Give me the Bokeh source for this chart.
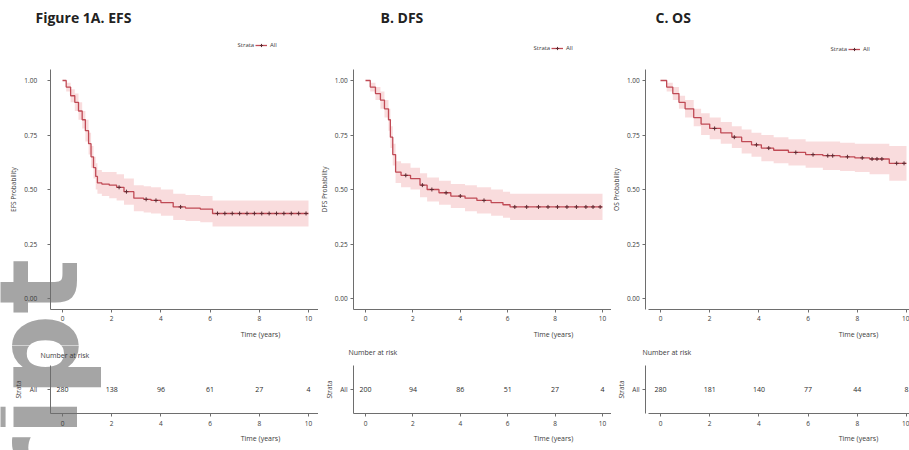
from bokeh.plotting import figure
from bokeh.layouts import row, column
from bokeh.models import Range1d, FixedTicker, Label, Legend, LegendItem
from bokeh.embed import file_html
from bokeh.resources import INLINE
from bokeh.core.properties import value

# ---- Kaplan-Meier estimates (time in years) ----
efs_time = [0, 0.15, 0.33, 0.5, 0.65, 0.8, 0.93, 1.06, 1.16, 1.26, 1.35, 1.42,
            1.6, 1.9, 2.2, 2.5, 2.9, 3.3, 3.6, 4.0, 4.5, 5.0, 5.6, 6.1, 10.0]
efs_surv = [1.0, 0.97, 0.93, 0.90, 0.86, 0.82, 0.77, 0.71, 0.65, 0.60, 0.56, 0.53,
            0.525, 0.52, 0.51, 0.49, 0.46, 0.455, 0.45, 0.44, 0.42, 0.415, 0.41, 0.39, 0.39]
efs_lower = [1.0, 0.95, 0.90, 0.86, 0.82, 0.78, 0.72, 0.66, 0.60, 0.55, 0.50, 0.48,
             0.47, 0.46, 0.45, 0.43, 0.40, 0.395, 0.39, 0.38, 0.36, 0.355, 0.35, 0.33, 0.33]
efs_upper = [1.0, 0.99, 0.96, 0.94, 0.90, 0.86, 0.82, 0.76, 0.70, 0.65, 0.62, 0.59,
             0.58, 0.58, 0.57, 0.55, 0.52, 0.515, 0.51, 0.50, 0.48, 0.475, 0.47, 0.45, 0.45]
efs_censor = [2.3, 2.6, 3.4, 3.8, 4.8, 6.3, 6.6, 6.9, 7.2, 7.5, 7.8, 8.1, 8.4,
              8.7, 9.0, 9.3, 9.6, 9.9]

dfs_time = [0, 0.2, 0.42, 0.63, 0.8, 0.97, 1.05, 1.15, 1.27, 1.5, 1.9, 2.3, 2.6,
            3.1, 3.6, 4.2, 4.7, 5.3, 5.8, 6.1, 10.0]
dfs_surv = [1.0, 0.97, 0.94, 0.91, 0.87, 0.82, 0.74, 0.66, 0.58, 0.565, 0.55, 0.52,
            0.50, 0.485, 0.47, 0.46, 0.45, 0.44, 0.43, 0.42, 0.42]
dfs_lower = [1.0, 0.95, 0.91, 0.87, 0.83, 0.77, 0.69, 0.61, 0.53, 0.51, 0.50, 0.465,
             0.445, 0.43, 0.415, 0.40, 0.39, 0.38, 0.37, 0.36, 0.36]
dfs_upper = [1.0, 0.99, 0.97, 0.95, 0.91, 0.87, 0.79, 0.71, 0.63, 0.62, 0.60, 0.575,
             0.555, 0.54, 0.525, 0.52, 0.51, 0.50, 0.49, 0.48, 0.48]
dfs_censor = [1.7, 2.4, 2.8, 3.4, 4.0, 5.0, 6.3, 6.8, 7.3, 7.7, 8.1, 8.5, 8.9,
              9.3, 9.6, 9.9]

os_time = [0, 0.25, 0.5, 0.75, 1.0, 1.35, 1.65, 2.0, 2.45, 2.9, 3.3, 3.7, 4.1,
           4.6, 5.2, 5.9, 6.6, 7.3, 7.9, 8.5, 9.1, 9.3, 10.0]
os_surv = [1.0, 0.97, 0.94, 0.90, 0.87, 0.83, 0.80, 0.78, 0.76, 0.74, 0.72, 0.705,
           0.69, 0.68, 0.67, 0.66, 0.655, 0.65, 0.645, 0.64, 0.64, 0.62, 0.62]
os_lower = [1.0, 0.95, 0.91, 0.87, 0.83, 0.79, 0.75, 0.73, 0.71, 0.69, 0.665, 0.65,
            0.63, 0.62, 0.61, 0.60, 0.59, 0.585, 0.58, 0.57, 0.57, 0.54, 0.54]
os_upper = [1.0, 0.99, 0.97, 0.93, 0.91, 0.87, 0.85, 0.83, 0.81, 0.79, 0.775, 0.76,
            0.75, 0.74, 0.73, 0.72, 0.72, 0.715, 0.71, 0.71, 0.71, 0.70, 0.70]
os_censor = [2.2, 3.0, 3.9, 4.4, 5.5, 6.2, 6.8, 7.0, 7.6, 8.2, 8.6, 8.8, 9.0,
             9.6, 9.9]

# ---- number at risk ----
risk_times = [0, 2, 4, 6, 8, 10]
efs_risk = [280, 138, 96, 61, 27, 4]
dfs_risk = [200, 94, 86, 51, 27, 4]
os_risk = [280, 181, 140, 77, 44, 8]

x_ticks = [0, 2, 4, 6, 8, 10]
y_ticks = [0, 0.25, 0.5, 0.75, 1.0]
y_tick_labels = {0: "0.00", 0.25: "0.25", 0.5: "0.50", 0.75: "0.75", 1: "1.00"}

FONT = "Open Sans"
LINE = "#c04a55"
BAND = "#f7d3d5"
MARK = "#5e2a31"
AXIS = "#6e6e6e"
TXT = "#3a3a3a"

MAIN_H, RISK_H = 345, 105          # page rows: curves 0-345, risk table 345-450
Y0_PX, Y1_PX = 298, 80             # page y of survival 0 and 1
ROW_PX, ROW_HALF = 389, 24         # risk-table row centre and half height


def steps(t, s):
    xs, ys = [], []
    for i in range(len(t)):
        if i > 0:
            xs.append(t[i])
            ys.append(s[i - 1])
        xs.append(t[i])
        ys.append(s[i])
    return xs, ys


def surv_at(t, s, x):
    v = s[0]
    for ti, si in zip(t, s):
        if ti <= x:
            v = si
    return v


class Col:
    """Horizontal geometry of one column of the figure (page pixels)."""

    def __init__(self, left, width, t0_px, px_per_year, axis_at, label_gap, title_gap):
        self.left, self.width = left, width
        self.t0, self.ppy = t0_px, px_per_year
        self.axis_at = axis_at
        self.label_gap, self.title_gap = label_gap, title_gap

    def x_range(self):
        return Range1d((self.left - self.t0) / self.ppy,
                       (self.left + self.width - self.t0) / self.ppy)

    def sx(self, page_x):
        return page_x - self.left


def style_axis(ax, label_gap=3, title_gap=3):
    ax.axis_line_color = AXIS
    ax.axis_line_width = 1
    ax.major_tick_line_color = AXIS
    ax.minor_tick_line_color = None
    ax.major_tick_out = 3
    ax.major_tick_in = 0
    ax.major_label_text_font = FONT
    ax.major_label_text_font_size = "6.5px"
    ax.major_label_text_color = TXT
    ax.major_label_standoff = label_gap
    ax.axis_label_text_font = FONT
    ax.axis_label_text_font_size = "6.5px"
    ax.axis_label_text_font_style = "normal"
    ax.axis_label_text_color = TXT
    ax.axis_label_standoff = title_gap


def base_fig(col, height, y_range):
    p = figure(width=col.width, height=height, output_backend="svg",
               toolbar_location=None, x_range=col.x_range(), y_range=y_range,
               min_border=0, min_border_left=0, min_border_right=0,
               min_border_top=0, min_border_bottom=0)
    p.background_fill_color = "white"
    p.border_fill_color = "white"
    p.outline_line_color = None
    p.xgrid.visible = False
    p.ygrid.visible = False
    style_axis(p.xaxis[0], 4, 4)
    style_axis(p.yaxis[0], col.label_gap, col.title_gap)
    p.xaxis.ticker = FixedTicker(ticks=x_ticks)
    p.xaxis.bounds = (-0.5, 10.5)
    p.yaxis.fixed_location = col.axis_at
    return p


def text_at(p, height, top, text, sx, page_y, size="7px", bold=False,
            align="left", color=TXT, angle=0.0, font=FONT, level="annotation"):
    p.add_layout(Label(x=sx, y=height - (page_y - top), x_units="screen",
                       y_units="screen", text=text, text_font=font,
                       text_font_size=size,
                       text_font_style="bold" if bold else "normal",
                       text_align=align, text_baseline="middle",
                       text_color=color, angle=angle, level=level))


def main_panel(col, title, ylab, t, s, lo, hi, cens, title_x, legend_x, legend_y, xlab_x):
    ppu = Y0_PX - Y1_PX
    y_range = Range1d(-(MAIN_H - Y0_PX) / ppu, Y0_PX / ppu)
    p = base_fig(col, MAIN_H, y_range)
    p.yaxis.ticker = FixedTicker(ticks=y_ticks)
    p.yaxis.major_label_overrides = y_tick_labels
    p.yaxis.bounds = (-0.05, 1.05)
    p.yaxis.axis_label = ylab
    p.xaxis.fixed_location = -0.05

    bx, blo = steps(t, lo)
    _, bhi = steps(t, hi)
    p.varea(x=bx, y1=blo, y2=bhi, fill_color=BAND, fill_alpha=0.8)
    sx_, sy_ = steps(t, s)
    line = p.line(sx_, sy_, line_color=LINE, line_width=1.3)
    cy = [surv_at(t, s, c) for c in cens]
    marks = p.scatter(cens, cy, marker="cross", size=4, line_color=MARK, line_width=1)

    text_at(p, MAIN_H, 0, title, col.sx(title_x), 17, size="14px", bold=True,
            color="#222222")
    text_at(p, MAIN_H, 0, "Strata", col.sx(legend_x), legend_y, size="6px")
    leg = Legend(items=[LegendItem(label="All", renderers=[line, marks])],
                 location=(col.sx(legend_x) + 18, MAIN_H - legend_y - 5),
                 orientation="horizontal", background_fill_alpha=0,
                 border_line_color=None, label_text_font=FONT,
                 label_text_font_size="6px", label_text_color=TXT,
                 glyph_width=12, glyph_height=8, label_standoff=3, padding=0,
                 margin=0, spacing=0, label_height=8)
    p.add_layout(leg, "center")
    text_at(p, MAIN_H, 0, "Time (years)", col.sx(xlab_x), 334, align="center")
    return p


def risk_panel(col, counts, title_x, title_y, xlab_x):
    y_range = Range1d(1 - (450 - ROW_PX) / (2 * ROW_HALF),
                      1 + (ROW_PX - MAIN_H) / (2 * ROW_HALF))
    r = base_fig(col, RISK_H, y_range)
    r.yaxis.ticker = FixedTicker(ticks=[1])
    r.yaxis.major_label_overrides = {1: "All"}
    r.yaxis.bounds = (0.5, 1.5)
    r.yaxis.axis_label = "Strata"
    r.xaxis.fixed_location = 0.5
    r.text(x=risk_times, y=[1] * len(risk_times), text=[str(c) for c in counts],
           text_align="center", text_baseline="middle", text_font=value(FONT),
           text_font_size="7px", text_color="#2a2a2a")
    text_at(r, RISK_H, MAIN_H, "Number at risk", col.sx(title_x), title_y)
    text_at(r, RISK_H, MAIN_H, "Time (years)", col.sx(xlab_x), 438, align="center")
    return r


def watermark(p, height, top):
    # large grey watermark running up the left edge, kept beneath the chart
    text_at(p, height, top, "Manuscript", 36, 258, size="116px", bold=True,
            align="right", color="#a5a5a5", angle=1.5708, font="DejaVu Sans",
            level="underlay")


c1 = Col(0, 318, 62, 24.6, -0.5, 10, 4)
c2 = Col(318, 293, 365, 23.7, -0.5, 3, 3)
c3 = Col(611, 298, 660, 24.6, -0.6, 3, 3)

m1 = main_panel(c1, "Figure 1A. EFS", "EFS Probability", efs_time, efs_surv,
                efs_lower, efs_upper, efs_censor, 35, 237, 44, 260)
m2 = main_panel(c2, "B. DFS", "DFS Probability", dfs_time, dfs_surv,
                dfs_lower, dfs_upper, dfs_censor, 380, 533, 47, 553)
m3 = main_panel(c3, "C. OS", "OS Probability", os_time, os_surv,
                os_lower, os_upper, os_censor, 655, 830, 48, 858)

r1 = risk_panel(c1, efs_risk, 40, 355, 260)
r2 = risk_panel(c2, dfs_risk, 348, 352, 553)
r3 = risk_panel(c3, os_risk, 642, 352, 858)

watermark(m1, MAIN_H, 0)
watermark(r1, RISK_H, MAIN_H)

layout = row(column(m1, r1), column(m2, r2), column(m3, r3))

with open("out.html", "w") as f:
    f.write(file_html(layout, INLINE))
